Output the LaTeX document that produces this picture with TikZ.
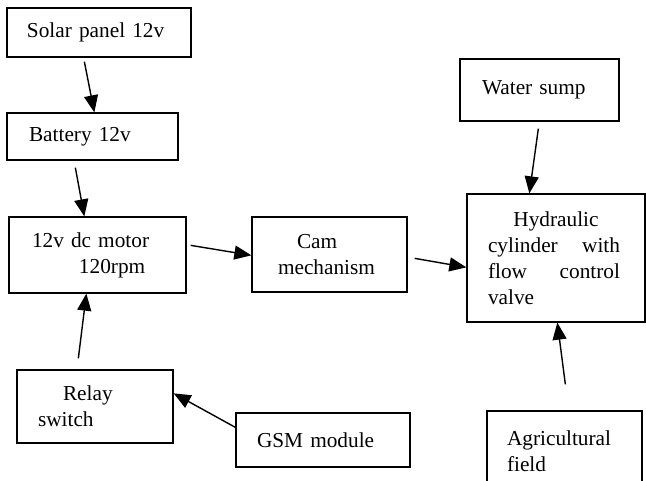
\documentclass[tikz,border=0pt]{standalone}
\usepackage{fontspec}
\setmainfont{Liberation Serif}
\usetikzlibrary{arrows.meta}

\begin{document}
\begin{tikzpicture}[x=1pt, y=-1pt,
    block/.style={draw, line width=1.3pt, inner sep=0pt, align=left,
      font=\fontsize{21.3}{26}\selectfont},
    arr/.style={line width=1.4pt, -{Triangle[length=17pt, width=14pt]}}]
  \useasboundingbox (0,0) rectangle (646,481);
  % power chain on the left
  \node[block, minimum width=184pt, minimum height=49pt, text width=144pt] (solar) at (99,32.5) {Solar panel 12v};
  \node[block, minimum width=171pt, minimum height=47pt, text width=127pt] (battery) at (92.5,136.5) {Battery 12v};
  \node[block, minimum width=177pt, minimum height=76pt, text width=131pt] (motor) at (97.5,255) {12v dc motor\\\hspace*{47pt}120rpm};
  \node[block, minimum width=155pt, minimum height=75pt, text width=103pt] (cam) at (329.5,254.5) {\hspace*{19pt}Cam\\mechanism};
  % control side
  \node[block, minimum width=156pt, minimum height=73pt, text width=114pt] (relay) at (95,406.5) {\hspace*{25pt}Relay\\switch};
  \node[block, minimum width=174pt, minimum height=54pt, text width=132pt] (gsm) at (323,440) {GSM module};
  % hydraulic side
  \node[block, minimum width=159pt, minimum height=62pt, text width=115pt] (sump) at (539.5,90) {Water sump};
  \node[block, minimum width=178pt, minimum height=128pt, text width=136pt] (hyd) at (556,258)
    {\makebox[136pt]{Hydraulic}\\\makebox[132pt][l]{cylinder\hfill with}\\\makebox[132pt][l]{flow\hfill control}\\valve};
  \node[block, minimum width=155pt, minimum height=80pt, text width=115pt] (agri) at (564.5,451) {Agricultural\\field};

  \draw[arr] ([shift={(78,4)}]solar.south west) -- ([shift={(88,0)}]battery.north west);
  \draw[arr] ([shift={(69,7)}]battery.south west) -- ([shift={(76,0)}]motor.north west);
  \draw[arr] ([shift={(4,29)}]motor.north east) -- ([shift={(0,39)}]cam.north west);
  \draw[arr] ([shift={(7,42)}]cam.north east) -- ([shift={(0,74)}]hyd.north west);
  \draw[arr] ([shift={(79,7)}]sump.south west) -- ([shift={(63,0)}]hyd.north west);
  \draw[arr] ([shift={(79,-26)}]agri.north west) -- ([shift={(91,0)}]hyd.south west);
  \draw[arr] ([shift={(62,-11)}]relay.north west) -- ([shift={(78,0)}]motor.south west);
  \draw[arr] ([shift={(0,15)}]gsm.north west) -- ([shift={(0,24)}]relay.north east);
\end{tikzpicture}
\end{document}
